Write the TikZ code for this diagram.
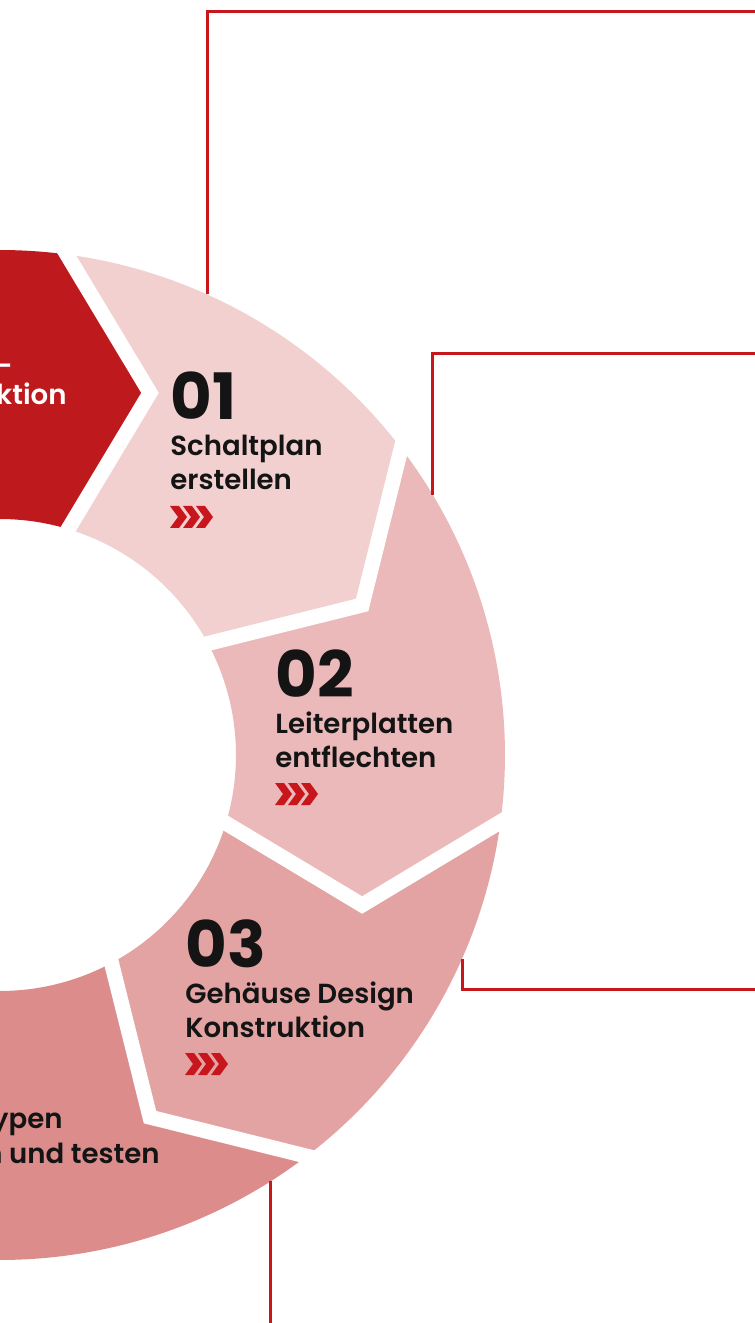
\documentclass[tikz,border=0pt]{standalone}
\usepackage{fontspec}
\setmainfont{Poppins}
\newfontfamily\labelfont{Poppins SemiBold}
\usepackage{xcolor}
\usetikzlibrary{calc, positioning}

\definecolor{ringdark}{HTML}{BE1A1D}
\definecolor{ringone}{HTML}{F2D0D0}
\definecolor{ringtwo}{HTML}{EBB9B9}
\definecolor{ringthree}{HTML}{E4A3A3}
\definecolor{ringfour}{HTML}{DD8C8C}
\definecolor{markred}{HTML}{C8161D}

\tikzset{
  stepnum/.style={inner sep=0pt, anchor=base west, text=black!92,
    font=\bfseries\fontsize{32}{32}\selectfont},
  steplabel/.style={inner sep=0pt, anchor=base west, text=black!92,
    font=\labelfont\fontsize{13.8}{16}\selectfont},
  gapline/.style={white, line width=7.5pt, line join=miter},
  callout/.style={markred, line width=1.5pt},
  chevrons/.pic={
    \foreach \i in {0,1,2}
      \fill[markred] (\i*13,11) -- ++(9,0) -- ++(8,-11) -- ++(-8,-11) -- ++(-9,0) -- ++(8,11) -- cycle;
  }
}

\begin{document}
\begin{tikzpicture}[x=0.5pt, y=0.5pt]
  \useasboundingbox (0,-568) rectangle (755,755);
  \clip (0,-568) rectangle (755,755);

  \foreach \j/\col in {-1/ringdark, 0/ringone, 1/ringtwo, 2/ringthree, 3/ringfour} {
    \pgfmathsetmacro{\oa}{82.4-45*\j}
    \pgfmathsetmacro{\ob}{\oa-45}
    \pgfmathsetmacro{\ta}{68.3-45*\j}
    \pgfmathsetmacro{\tb}{\ta-45}
    \pgfmathsetmacro{\ia}{73.2-45*\j}
    \pgfmathsetmacro{\ib}{\ia-45}
    \fill[\col] (\oa:505) arc[start angle=\oa, end angle=\ob, radius=505]
      -- (\tb:390) -- (\ib:236)
      arc[start angle=\ib, end angle=\ia, radius=236] -- (\ta:390) -- cycle;
  }
  \foreach \j in {0,...,3} {
    \pgfmathsetmacro{\oa}{82.4-45*\j}
    \pgfmathsetmacro{\ta}{67.5-45*\j}
    \pgfmathsetmacro{\ia}{73.2-45*\j}
    \coordinate (gapo) at (\oa:505);
    \coordinate (gapt) at (\ta:392);
    \coordinate (gapi) at (\ia:236);
    \draw[gapline] ($(gapt)!1.15!(gapo)$) -- (gapt) -- ($(gapt)!1.2!(gapi)$);
  }

  \coordinate (tab1) at (65.8:505);
  \coordinate (tab2) at (31:505);
  \coordinate (tab3) at (-23.8:505);
  \coordinate (tab4) at (-57.6:505);
  \coordinate (end1) at (760,743);
  \coordinate (end2) at (760,401);
  \coordinate (end3) at (760,-234);
  \coordinate (end4) at (271,-575);
  \draw[callout] (tab1) |- (end1);
  \draw[callout] (tab2) |- (end2);
  \draw[callout] (tab3) |- (end3);
  \draw[callout] (tab4) -- (tab4 |- end4);

  \node[stepnum] (num1) at (170,335) {01};
  \node[steplabel] (lab1a) at ([yshift=-18pt]num1.base west) {Schaltplan};
  \node[steplabel] (lab1b) at ([yshift=-17pt]lab1a.base west) {erstellen};
  \pic at ([yshift=-13.5pt]lab1b.base west) {chevrons};

  \node[stepnum] (num2) at (275,58) {02};
  \node[steplabel] (lab2a) at ([yshift=-18pt]num2.base west) {Leiterplatten};
  \node[steplabel] (lab2b) at ([yshift=-17pt]lab2a.base west) {entflechten};
  \pic at ([yshift=-13.5pt]lab2b.base west) {chevrons};

  \node[stepnum] (num3) at (185,-212) {03};
  \node[steplabel] (lab3a) at ([yshift=-18pt]num3.base west) {Gehäuse Design};
  \node[steplabel] (lab3b) at ([yshift=-17pt]lab3a.base west) {Konstruktion};
  \pic at ([yshift=-13.5pt]lab3b.base west) {chevrons};

  \node[steplabel, text=white, anchor=base east] (frag1) at (13,379) {-};
  \node[steplabel, text=white, anchor=base east] (frag2) at (67,350) {ktion};
  \node[steplabel, anchor=base east] (frag3) at (63,-373) {ypen};
  \node[steplabel, anchor=base east] (frag4) at (160,-408) {n und testen};
\end{tikzpicture}
\end{document}
